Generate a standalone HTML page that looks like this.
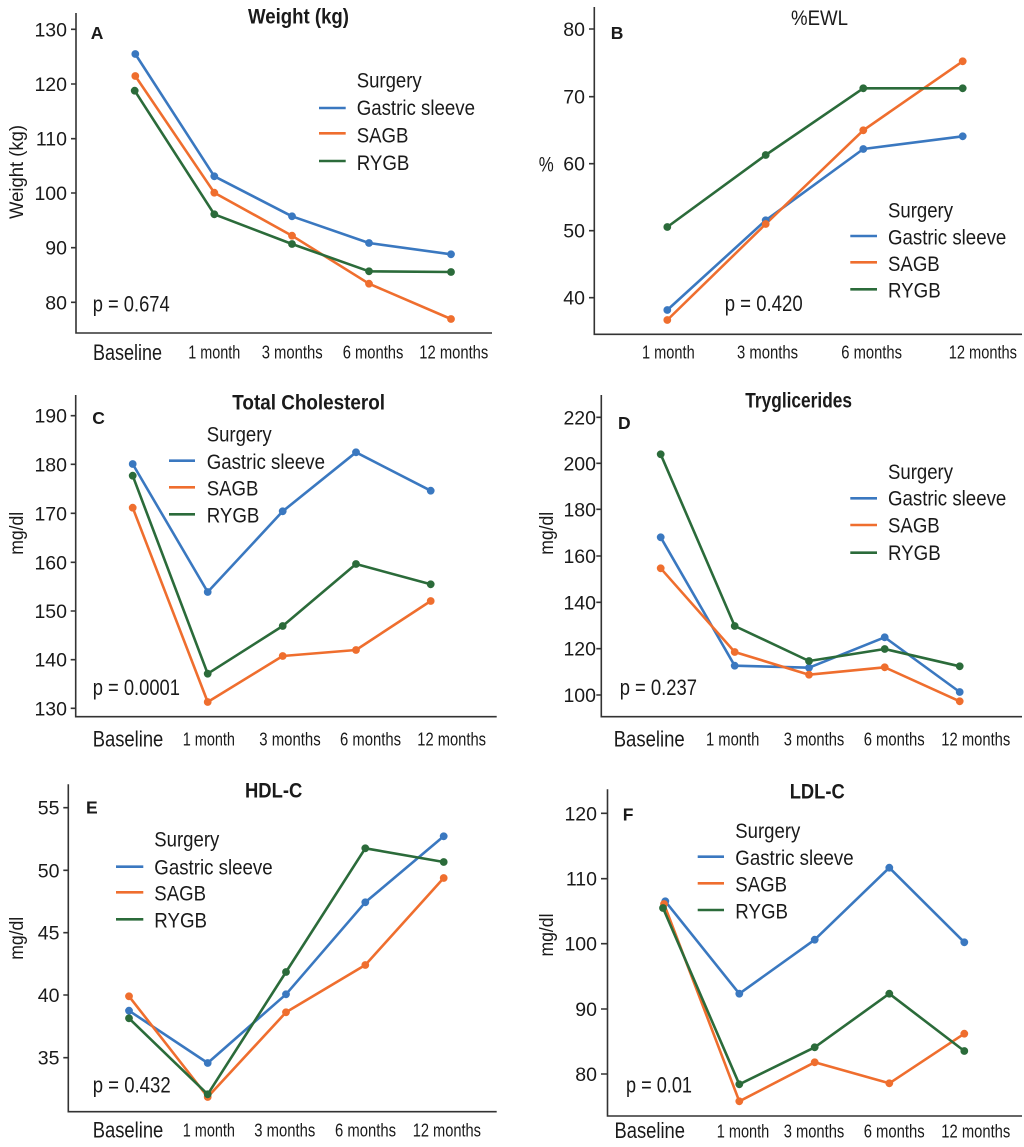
<!DOCTYPE html>
<html><head><meta charset="utf-8"><style>
html,body{margin:0;padding:0;background:#fff;}
svg{display:block;}
text{font-family:"Liberation Sans",Arial,sans-serif;fill:#1a1a1a;}
.tk{font-size:19.5px;text-anchor:end;}
.mo{font-size:18.5px;}
.bl{font-size:22px;}
.lg{font-size:21px;}
.pv{font-size:22px;}
.tt{font-size:21px;font-weight:bold;}
.lt{font-size:17.5px;font-weight:bold;}
.yt{font-size:19px;}
.ax{stroke:#333;stroke-width:1.6;fill:none;}
.gs{stroke:#3a78c0;stroke-width:2.6;fill:none;stroke-linejoin:round;}
.sa{stroke:#ef6e2e;stroke-width:2.6;fill:none;stroke-linejoin:round;}
.ry{stroke:#2b6b3a;stroke-width:2.6;fill:none;stroke-linejoin:round;}
.gsd{fill:#3a78c0;} .sad{fill:#ef6e2e;} .ryd{fill:#2b6b3a;}
circle{r:3.9px;}
</style></head><body>
<svg width="1024" height="1147" viewBox="0 0 1024 1147" xmlns="http://www.w3.org/2000/svg">
<rect width="1024" height="1147" fill="#fff"/>

<!-- ================= Panel A ================= -->
<path class="ax" d="M76,13 V333 H492"/>
<path class="ax" d="M71,29.3H76M71,84H76M71,138.7H76M71,193H76M71,247.7H76M71,302.3H76"/>
<text class="tk" x="67" y="36.3">130</text>
<text class="tk" x="67" y="91">120</text>
<text class="tk" x="67" y="145.7">110</text>
<text class="tk" x="67" y="200">100</text>
<text class="tk" x="67" y="254.7">90</text>
<text class="tk" x="67" y="309.3">80</text>
<text class="bl" x="93" y="360" textLength="69" lengthAdjust="spacingAndGlyphs">Baseline</text>
<text class="mo" x="188.3" y="358.3" textLength="52" lengthAdjust="spacingAndGlyphs">1 month</text>
<text class="mo" x="261.7" y="358.3" textLength="61" lengthAdjust="spacingAndGlyphs">3 months</text>
<text class="mo" x="342.7" y="358.3" textLength="60.7" lengthAdjust="spacingAndGlyphs">6 months</text>
<text class="mo" x="419.3" y="358.3" textLength="69" lengthAdjust="spacingAndGlyphs">12 months</text>
<text class="yt" transform="translate(23,172) rotate(-90)" text-anchor="middle" font-size="20.5" textLength="94" lengthAdjust="spacingAndGlyphs">Weight (kg)</text>
<text class="tt" x="248" y="23.3" textLength="101" lengthAdjust="spacingAndGlyphs">Weight (kg)</text>
<text class="lt" x="90.7" y="39">A</text>
<text class="pv" x="92.7" y="311.7" textLength="77" lengthAdjust="spacingAndGlyphs">p = 0.674</text>
<text class="lg" x="356.7" y="87.3" textLength="65" lengthAdjust="spacingAndGlyphs">Surgery</text>
<line x1="319" y1="108" x2="345.7" y2="108" class="gs"/>
<line x1="319" y1="133.3" x2="345.7" y2="133.3" class="sa"/>
<line x1="319" y1="161" x2="345.7" y2="161" class="ry"/>
<text class="lg" x="356.7" y="115" textLength="118.3" lengthAdjust="spacingAndGlyphs">Gastric sleeve</text>
<text class="lg" x="356.7" y="142.7" textLength="51.7" lengthAdjust="spacingAndGlyphs">SAGB</text>
<text class="lg" x="356.7" y="170" textLength="52.7" lengthAdjust="spacingAndGlyphs">RYGB</text>
<polyline class="gs" points="135.3,54 214.3,176.3 292,216.3 369,243 451,254.3"/>
<polyline class="sa" points="135.3,76 214.3,192.7 292,235.7 369,283.7 451,319"/>
<polyline class="ry" points="134.7,90.7 214.3,214.3 292,244 369,271.3 451,272"/>
<g class="gsd"><circle cx="135.3" cy="54" r="3.9"/><circle cx="214.3" cy="176.3" r="3.9"/><circle cx="292" cy="216.3" r="3.9"/><circle cx="369" cy="243" r="3.9"/><circle cx="451" cy="254.3" r="3.9"/></g>
<g class="sad"><circle cx="135.3" cy="76" r="3.9"/><circle cx="214.3" cy="192.7" r="3.9"/><circle cx="292" cy="235.7" r="3.9"/><circle cx="369" cy="283.7" r="3.9"/><circle cx="451" cy="319" r="3.9"/></g>
<g class="ryd"><circle cx="134.7" cy="90.7" r="3.9"/><circle cx="214.3" cy="214.3" r="3.9"/><circle cx="292" cy="244" r="3.9"/><circle cx="369" cy="271.3" r="3.9"/><circle cx="451" cy="272" r="3.9"/></g>

<!-- ================= Panel B ================= -->
<path class="ax" d="M594.3,7 V334.3 H1022"/>
<path class="ax" d="M589,29H594.3M589,96.7H594.3M589,163.7H594.3M589,230.7H594.3M589,297.7H594.3"/>
<text class="tk" x="585" y="36">80</text>
<text class="tk" x="585" y="103.7">70</text>
<text class="tk" x="585" y="170.7">60</text>
<text class="tk" x="585" y="237.7">50</text>
<text class="tk" x="585" y="304.7">40</text>
<text class="mo" x="642" y="358.3" textLength="52.7" lengthAdjust="spacingAndGlyphs">1 month</text>
<text class="mo" x="737" y="358.3" textLength="61" lengthAdjust="spacingAndGlyphs">3 months</text>
<text class="mo" x="841.3" y="358.3" textLength="60.7" lengthAdjust="spacingAndGlyphs">6 months</text>
<text class="mo" x="948.7" y="358.3" textLength="68.3" lengthAdjust="spacingAndGlyphs">12 months</text>
<text x="538.7" y="171.5" font-size="21" textLength="15" lengthAdjust="spacingAndGlyphs">%</text>
<text x="791" y="25" font-size="21" textLength="57" lengthAdjust="spacingAndGlyphs">%EWL</text>
<text class="lt" x="610.7" y="39">B</text>
<text class="pv" x="724.7" y="311" textLength="78" lengthAdjust="spacingAndGlyphs">p = 0.420</text>
<text class="lg" x="888" y="217.3" textLength="65" lengthAdjust="spacingAndGlyphs">Surgery</text>
<line x1="850.3" y1="236" x2="877" y2="236" class="gs"/>
<line x1="850.3" y1="262.3" x2="877" y2="262.3" class="sa"/>
<line x1="850.3" y1="289.3" x2="877" y2="289.3" class="ry"/>
<text class="lg" x="888" y="244.3" textLength="118.3" lengthAdjust="spacingAndGlyphs">Gastric sleeve</text>
<text class="lg" x="888" y="271" textLength="51.7" lengthAdjust="spacingAndGlyphs">SAGB</text>
<text class="lg" x="888" y="297.7" textLength="52.7" lengthAdjust="spacingAndGlyphs">RYGB</text>
<polyline class="gs" points="667.3,310 765.7,220.3 863.3,149 962.7,136.3"/>
<polyline class="sa" points="667.3,320 765.7,224 863.3,130.3 962.7,61.3"/>
<polyline class="ry" points="667.3,227 765.7,155 863.3,88.3 962.7,88.3"/>
<g class="gsd"><circle cx="667.3" cy="310" r="3.9"/><circle cx="765.7" cy="220.3" r="3.9"/><circle cx="863.3" cy="149" r="3.9"/><circle cx="962.7" cy="136.3" r="3.9"/></g>
<g class="sad"><circle cx="667.3" cy="320" r="3.9"/><circle cx="765.7" cy="224" r="3.9"/><circle cx="863.3" cy="130.3" r="3.9"/><circle cx="962.7" cy="61.3" r="3.9"/></g>
<g class="ryd"><circle cx="667.3" cy="227" r="3.9"/><circle cx="765.7" cy="155" r="3.9"/><circle cx="863.3" cy="88.3" r="3.9"/><circle cx="962.7" cy="88.3" r="3.9"/></g>

<!-- ================= Panel C ================= -->
<path class="ax" d="M75.7,395 V716.7 H496.7"/>
<path class="ax" d="M70.7,415.7H75.7M70.7,464.3H75.7M70.7,513.3H75.7M70.7,562.3H75.7M70.7,611H75.7M70.7,659.7H75.7M70.7,708.3H75.7"/>
<text class="tk" x="67" y="422.7">190</text>
<text class="tk" x="67" y="471.3">180</text>
<text class="tk" x="67" y="520.3">170</text>
<text class="tk" x="67" y="569.3">160</text>
<text class="tk" x="67" y="618">150</text>
<text class="tk" x="67" y="666.7">140</text>
<text class="tk" x="67" y="715.3">130</text>
<text class="bl" x="92.7" y="746.7" textLength="70.6" lengthAdjust="spacingAndGlyphs">Baseline</text>
<text class="mo" x="182.7" y="745.7" textLength="52.3" lengthAdjust="spacingAndGlyphs">1 month</text>
<text class="mo" x="259.3" y="745.7" textLength="61.4" lengthAdjust="spacingAndGlyphs">3 months</text>
<text class="mo" x="340" y="745.7" textLength="61" lengthAdjust="spacingAndGlyphs">6 months</text>
<text class="mo" x="417.3" y="745.7" textLength="68.7" lengthAdjust="spacingAndGlyphs">12 months</text>
<text class="yt" transform="translate(23,533.3) rotate(-90)" text-anchor="middle" textLength="43" lengthAdjust="spacingAndGlyphs">mg/dl</text>
<text class="tt" x="232.3" y="409.3" font-size="22" textLength="152.7" lengthAdjust="spacingAndGlyphs">Total Cholesterol</text>
<text class="lt" x="92.3" y="424">C</text>
<text class="pv" x="92.7" y="695" textLength="87.3" lengthAdjust="spacingAndGlyphs">p = 0.0001</text>
<text class="lg" x="206.7" y="441.3" textLength="65" lengthAdjust="spacingAndGlyphs">Surgery</text>
<line x1="169" y1="460.7" x2="195" y2="460.7" class="gs"/>
<line x1="169" y1="487.3" x2="195" y2="487.3" class="sa"/>
<line x1="169" y1="514.3" x2="195" y2="514.3" class="ry"/>
<text class="lg" x="206.7" y="469" textLength="118.3" lengthAdjust="spacingAndGlyphs">Gastric sleeve</text>
<text class="lg" x="206.7" y="495.7" textLength="51.7" lengthAdjust="spacingAndGlyphs">SAGB</text>
<text class="lg" x="206.7" y="522.7" textLength="52.7" lengthAdjust="spacingAndGlyphs">RYGB</text>
<polyline class="gs" points="132.7,464 207.7,592 282.7,511.3 356,452.3 430.7,490.7"/>
<polyline class="sa" points="132.7,507.7 207.7,702 282.7,656 356,650 430.7,601"/>
<polyline class="ry" points="132.7,475.7 207.7,673.7 282.7,626 356,564 430.7,584.3"/>
<g class="gsd"><circle cx="132.7" cy="464" r="3.9"/><circle cx="207.7" cy="592" r="3.9"/><circle cx="282.7" cy="511.3" r="3.9"/><circle cx="356" cy="452.3" r="3.9"/><circle cx="430.7" cy="490.7" r="3.9"/></g>
<g class="sad"><circle cx="132.7" cy="507.7" r="3.9"/><circle cx="207.7" cy="702" r="3.9"/><circle cx="282.7" cy="656" r="3.9"/><circle cx="356" cy="650" r="3.9"/><circle cx="430.7" cy="601" r="3.9"/></g>
<g class="ryd"><circle cx="132.7" cy="475.7" r="3.9"/><circle cx="207.7" cy="673.7" r="3.9"/><circle cx="282.7" cy="626" r="3.9"/><circle cx="356" cy="564" r="3.9"/><circle cx="430.7" cy="584.3" r="3.9"/></g>

<!-- ================= Panel D ================= -->
<path class="ax" d="M601.3,395 V716.7 H1022"/>
<path class="ax" d="M596.3,417.3H601.3M596.3,463.3H601.3M596.3,509.3H601.3M596.3,556H601.3M596.3,602.3H601.3M596.3,648.7H601.3M596.3,695H601.3"/>
<text class="tk" x="596" y="424.3">220</text>
<text class="tk" x="596" y="470.3">200</text>
<text class="tk" x="596" y="516.3">180</text>
<text class="tk" x="596" y="563">160</text>
<text class="tk" x="596" y="609.3">140</text>
<text class="tk" x="596" y="655.7">120</text>
<text class="tk" x="596" y="702">100</text>
<text class="bl" x="613.7" y="746.7" textLength="71" lengthAdjust="spacingAndGlyphs">Baseline</text>
<text class="mo" x="706" y="745.7" textLength="53.3" lengthAdjust="spacingAndGlyphs">1 month</text>
<text class="mo" x="783.7" y="745.7" textLength="60.6" lengthAdjust="spacingAndGlyphs">3 months</text>
<text class="mo" x="863.7" y="745.7" textLength="61" lengthAdjust="spacingAndGlyphs">6 months</text>
<text class="mo" x="941.3" y="745.7" textLength="69" lengthAdjust="spacingAndGlyphs">12 months</text>
<text class="yt" transform="translate(553,533.3) rotate(-90)" text-anchor="middle" textLength="43" lengthAdjust="spacingAndGlyphs">mg/dl</text>
<text class="tt" x="745.3" y="407.5" font-size="22" textLength="106.7" lengthAdjust="spacingAndGlyphs">Tryglicerides</text>
<text class="lt" x="618" y="429">D</text>
<text class="pv" x="619.7" y="695" textLength="77.3" lengthAdjust="spacingAndGlyphs">p = 0.237</text>
<text class="lg" x="888" y="479" textLength="65" lengthAdjust="spacingAndGlyphs">Surgery</text>
<line x1="850.3" y1="498.3" x2="877" y2="498.3" class="gs"/>
<line x1="850.3" y1="525" x2="877" y2="525" class="sa"/>
<line x1="850.3" y1="552.7" x2="877" y2="552.7" class="ry"/>
<text class="lg" x="888" y="505.7" textLength="118.3" lengthAdjust="spacingAndGlyphs">Gastric sleeve</text>
<text class="lg" x="888" y="532.7" textLength="51.7" lengthAdjust="spacingAndGlyphs">SAGB</text>
<text class="lg" x="888" y="560" textLength="52.7" lengthAdjust="spacingAndGlyphs">RYGB</text>
<polyline class="gs" points="660.7,537.3 734.7,665.7 809,667.7 884.7,637.3 959.7,692"/>
<polyline class="sa" points="660.7,568.3 734.7,652 809,674.7 884.7,667.3 959.7,701.3"/>
<polyline class="ry" points="660.7,454.3 734.7,626 809,661 884.7,649 959.7,666.3"/>
<g class="gsd"><circle cx="660.7" cy="537.3" r="3.9"/><circle cx="734.7" cy="665.7" r="3.9"/><circle cx="809" cy="667.7" r="3.9"/><circle cx="884.7" cy="637.3" r="3.9"/><circle cx="959.7" cy="692" r="3.9"/></g>
<g class="sad"><circle cx="660.7" cy="568.3" r="3.9"/><circle cx="734.7" cy="652" r="3.9"/><circle cx="809" cy="674.7" r="3.9"/><circle cx="884.7" cy="667.3" r="3.9"/><circle cx="959.7" cy="701.3" r="3.9"/></g>
<g class="ryd"><circle cx="660.7" cy="454.3" r="3.9"/><circle cx="734.7" cy="626" r="3.9"/><circle cx="809" cy="661" r="3.9"/><circle cx="884.7" cy="649" r="3.9"/><circle cx="959.7" cy="666.3" r="3.9"/></g>

<!-- ================= Panel E ================= -->
<path class="ax" d="M68.3,784.3 V1111.7 H496.7"/>
<path class="ax" d="M63.3,807.7H68.3M63.3,870.3H68.3M63.3,932.7H68.3M63.3,995H68.3M63.3,1057.7H68.3"/>
<text class="tk" x="59.5" y="814.7">55</text>
<text class="tk" x="59.5" y="877.3">50</text>
<text class="tk" x="59.5" y="939.7">45</text>
<text class="tk" x="59.5" y="1002">40</text>
<text class="tk" x="59.5" y="1064.7">35</text>
<text class="bl" x="92.7" y="1137.7" textLength="70.6" lengthAdjust="spacingAndGlyphs">Baseline</text>
<text class="mo" x="182.7" y="1136.7" textLength="52.3" lengthAdjust="spacingAndGlyphs">1 month</text>
<text class="mo" x="254.3" y="1136.7" textLength="61" lengthAdjust="spacingAndGlyphs">3 months</text>
<text class="mo" x="335" y="1136.7" textLength="61" lengthAdjust="spacingAndGlyphs">6 months</text>
<text class="mo" x="412.7" y="1136.7" textLength="68.3" lengthAdjust="spacingAndGlyphs">12 months</text>
<text class="yt" transform="translate(23,938.3) rotate(-90)" text-anchor="middle" textLength="43" lengthAdjust="spacingAndGlyphs">mg/dl</text>
<text class="tt" x="245" y="797.3" font-size="22" textLength="57.3" lengthAdjust="spacingAndGlyphs">HDL-C</text>
<text class="lt" x="86" y="813.3">E</text>
<text class="pv" x="92.7" y="1092.3" textLength="78" lengthAdjust="spacingAndGlyphs">p = 0.432</text>
<text class="lg" x="154.3" y="846.7" textLength="65" lengthAdjust="spacingAndGlyphs">Surgery</text>
<line x1="116" y1="866.7" x2="143.3" y2="866.7" class="gs"/>
<line x1="116" y1="892.3" x2="143.3" y2="892.3" class="sa"/>
<line x1="116" y1="919.3" x2="143.3" y2="919.3" class="ry"/>
<text class="lg" x="154.3" y="874.3" textLength="118.3" lengthAdjust="spacingAndGlyphs">Gastric sleeve</text>
<text class="lg" x="154.3" y="900.7" textLength="51.7" lengthAdjust="spacingAndGlyphs">SAGB</text>
<text class="lg" x="154.3" y="927.7" textLength="52.7" lengthAdjust="spacingAndGlyphs">RYGB</text>
<polyline class="gs" points="129,1010.7 207.7,1063 286,994.3 365.3,902.3 443.7,836.3"/>
<polyline class="sa" points="129,996.3 207.7,1097 286,1012.3 365.3,965 443.7,878"/>
<polyline class="ry" points="129,1018.3 207.7,1094.3 286,972 365.3,848.3 443.7,862"/>
<g class="gsd"><circle cx="129" cy="1010.7" r="3.9"/><circle cx="207.7" cy="1063" r="3.9"/><circle cx="286" cy="994.3" r="3.9"/><circle cx="365.3" cy="902.3" r="3.9"/><circle cx="443.7" cy="836.3" r="3.9"/></g>
<g class="sad"><circle cx="129" cy="996.3" r="3.9"/><circle cx="207.7" cy="1097" r="3.9"/><circle cx="286" cy="1012.3" r="3.9"/><circle cx="365.3" cy="965" r="3.9"/><circle cx="443.7" cy="878" r="3.9"/></g>
<g class="ryd"><circle cx="129" cy="1018.3" r="3.9"/><circle cx="207.7" cy="1094.3" r="3.9"/><circle cx="286" cy="972" r="3.9"/><circle cx="365.3" cy="848.3" r="3.9"/><circle cx="443.7" cy="862" r="3.9"/></g>

<!-- ================= Panel F ================= -->
<path class="ax" d="M607.5,789.3 V1116 H1022"/>
<path class="ax" d="M601,813.3H607.5M601,878.7H607.5M601,943.7H607.5M601,1009H607.5M601,1074H607.5"/>
<text class="tk" x="597" y="820.3">120</text>
<text class="tk" x="597" y="885.7">110</text>
<text class="tk" x="597" y="950.7">100</text>
<text class="tk" x="597" y="1016">90</text>
<text class="tk" x="597" y="1081">80</text>
<text class="bl" x="614.5" y="1138" textLength="70.5" lengthAdjust="spacingAndGlyphs">Baseline</text>
<text class="mo" x="716.7" y="1137.3" textLength="52.6" lengthAdjust="spacingAndGlyphs">1 month</text>
<text class="mo" x="783.7" y="1137.3" textLength="60.6" lengthAdjust="spacingAndGlyphs">3 months</text>
<text class="mo" x="863.7" y="1137.3" textLength="61" lengthAdjust="spacingAndGlyphs">6 months</text>
<text class="mo" x="941.3" y="1137.3" textLength="69" lengthAdjust="spacingAndGlyphs">12 months</text>
<text class="yt" transform="translate(553,935) rotate(-90)" text-anchor="middle" textLength="43" lengthAdjust="spacingAndGlyphs">mg/dl</text>
<text class="tt" x="789.7" y="798.3" font-size="22" textLength="55" lengthAdjust="spacingAndGlyphs">LDL-C</text>
<text class="lt" x="622.7" y="820.7">F</text>
<text class="pv" x="626" y="1092.3" textLength="66" lengthAdjust="spacingAndGlyphs">p = 0.01</text>
<text class="lg" x="735.3" y="838" textLength="65" lengthAdjust="spacingAndGlyphs">Surgery</text>
<line x1="697.7" y1="856.7" x2="724" y2="856.7" class="gs"/>
<line x1="697.7" y1="883.3" x2="724" y2="883.3" class="sa"/>
<line x1="697.7" y1="910" x2="724" y2="910" class="ry"/>
<text class="lg" x="735.3" y="865" textLength="118.3" lengthAdjust="spacingAndGlyphs">Gastric sleeve</text>
<text class="lg" x="735.3" y="891.7" textLength="51.7" lengthAdjust="spacingAndGlyphs">SAGB</text>
<text class="lg" x="735.3" y="918.3" textLength="52.7" lengthAdjust="spacingAndGlyphs">RYGB</text>
<polyline class="gs" points="665.3,901.3 739.3,993.7 814.7,939.7 889.3,867.7 964.3,942.3"/>
<polyline class="sa" points="664,904 739.3,1101.3 814.7,1062.3 889.3,1083.3 964.3,1033.7"/>
<polyline class="ry" points="663,908 739.3,1084.3 814.7,1047.3 889.3,993.7 964.3,1051"/>
<g class="gsd"><circle cx="665.3" cy="901.3" r="3.9"/><circle cx="739.3" cy="993.7" r="3.9"/><circle cx="814.7" cy="939.7" r="3.9"/><circle cx="889.3" cy="867.7" r="3.9"/><circle cx="964.3" cy="942.3" r="3.9"/></g>
<g class="sad"><circle cx="664" cy="904" r="3.9"/><circle cx="739.3" cy="1101.3" r="3.9"/><circle cx="814.7" cy="1062.3" r="3.9"/><circle cx="889.3" cy="1083.3" r="3.9"/><circle cx="964.3" cy="1033.7" r="3.9"/></g>
<g class="ryd"><circle cx="663" cy="908" r="3.9"/><circle cx="739.3" cy="1084.3" r="3.9"/><circle cx="814.7" cy="1047.3" r="3.9"/><circle cx="889.3" cy="993.7" r="3.9"/><circle cx="964.3" cy="1051" r="3.9"/></g>
</svg>
</body></html>
